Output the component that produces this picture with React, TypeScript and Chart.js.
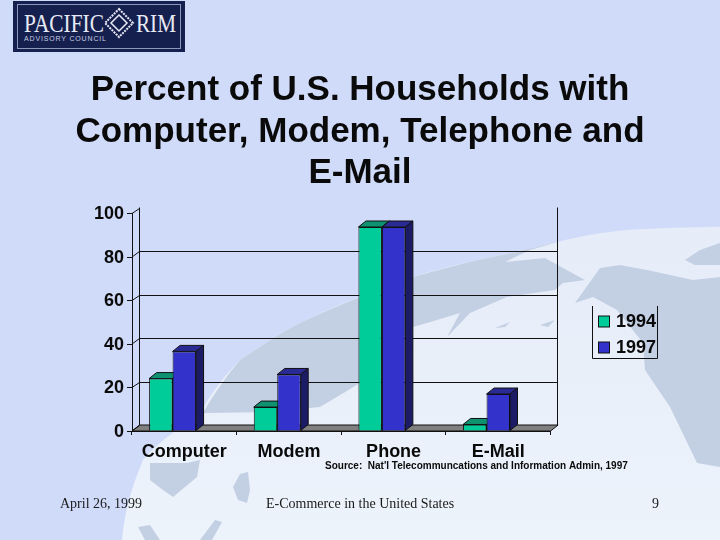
import { useEffect, useRef } from "react"
import { Chart, registerables, type Plugin } from "chart.js"

Chart.register(...registerables)

const categories = ["Computer", "Modem", "Phone", "E-Mail"]
const values1994 = [24.1, 11, 93.8, 3]
const values1997 = [36.6, 26, 93.8, 17]
const yearLabels = ["1994", "1997"]
const titleLines = ["Percent of U.S. Households with", "Computer, Modem, Telephone and", "E-Mail"]
const sourceNote = "Source:  Nat'l Telecommuncations and Information Admin, 1997"
const footerDate = "April 26, 1999"
const footerTitle = "E-Commerce in the United States"
const footerPage = "9"

const DEPTH_X = 7.5
const DEPTH_Y = 6
const SANS = '"Liberation Sans", Arial, sans-serif'
const SERIF = '"Liberation Serif", "Times New Roman", serif'

const frontColors = ["#00cc99", "#3333cc"]
const topColors = ["#0f9270", "#2a2a94"]
const sideColors = ["#0a6a50", "#1c1c66"]

function poly(ctx: CanvasRenderingContext2D, pts: number[][], fill: string) {
  ctx.beginPath()
  pts.forEach(([x, y], i) => (i ? ctx.lineTo(x, y) : ctx.moveTo(x, y)))
  ctx.closePath()
  ctx.fillStyle = fill
  ctx.fill()
  ctx.stroke()
}

// back wall, floor and the depth faces of the bars
const depthPlugin: Plugin<"bar"> = {
  id: "depth",
  beforeDatasetsDraw(chart) {
    const { ctx, chartArea } = chart
    const { left, right, bottom, top } = chartArea
    const y = chart.scales.y
    const backLeft = Math.round(left + DEPTH_X) - 0.5
    const backRight = Math.round(right + DEPTH_X) - 0.5
    ctx.save()
    ctx.lineWidth = 1
    ctx.strokeStyle = "#111"

    poly(
      ctx,
      [
        [left, bottom],
        [left + DEPTH_X, bottom - DEPTH_Y],
        [right + DEPTH_X, bottom - DEPTH_Y],
        [right, bottom],
      ],
      "#808080"
    )

    ctx.beginPath()
    y.ticks.forEach((t) => {
      const py = y.getPixelForValue(t.value)
      const backY = Math.round(py - DEPTH_Y) + 0.5
      ctx.moveTo(left, py)
      ctx.lineTo(backLeft, backY)
      if (t.value > 0 && t.value < 100) {
        ctx.lineTo(backRight, backY)
      }
    })
    ctx.moveTo(backLeft, top - DEPTH_Y)
    ctx.lineTo(backLeft, bottom - DEPTH_Y)
    ctx.moveTo(backRight, top - DEPTH_Y)
    ctx.lineTo(backRight, bottom - DEPTH_Y)
    ctx.stroke()

    frontColors.forEach((_, d) => {
      chart.getDatasetMeta(d).data.forEach((el: any) => {
        const x0 = el.x - el.width / 2
        const x1 = el.x + el.width / 2
        poly(
          ctx,
          [
            [x0, el.y],
            [x0 + DEPTH_X, el.y - DEPTH_Y],
            [x1 + DEPTH_X, el.y - DEPTH_Y],
            [x1, el.y],
          ],
          topColors[d]
        )
        poly(
          ctx,
          [
            [x1, el.y],
            [x1 + DEPTH_X, el.y - DEPTH_Y],
            [x1 + DEPTH_X, el.base - DEPTH_Y],
            [x1, el.base],
          ],
          sideColors[d]
        )
      })
    })
    ctx.restore()
  },
}

// legend box, source line and slide footer
const slideTextPlugin: Plugin<"bar"> = {
  id: "slideText",
  afterDraw(chart) {
    const { ctx } = chart
    ctx.save()
    ctx.strokeStyle = "#111"
    ctx.lineWidth = 1
    ctx.beginPath()
    ctx.moveTo(592.5, 306)
    ctx.lineTo(592.5, 358.5)
    ctx.lineTo(657.5, 358.5)
    ctx.lineTo(657.5, 306)
    ctx.stroke()

    ctx.textBaseline = "middle"
    ctx.textAlign = "left"
    yearLabels.forEach((label, i) => {
      const cy = 321.5 + i * 26
      ctx.fillStyle = frontColors[i]
      ctx.fillRect(598.5, cy - 5.5, 11, 11)
      ctx.strokeRect(598.5, cy - 5.5, 11, 11)
      ctx.fillStyle = "#0a0a0a"
      ctx.font = `bold 18px ${SANS}`
      ctx.fillText(label, 616, cy + 1)
    })

    ctx.font = `bold 10px ${SANS}`
    ctx.fillText(sourceNote, 325, 466)

    ctx.font = `14px ${SERIF}`
    ctx.fillStyle = "#1a1a1a"
    ctx.fillText(footerDate, 60, 504)
    ctx.fillText(footerTitle, 266, 504)
    ctx.fillText(footerPage, 652, 504)
    ctx.restore()
  },
}

function Backdrop() {
  const land = "#c3cfe3"
  return (
    <svg width={720} height={540} style={{ position: "absolute", left: 0, top: 0 }}>
      <defs>
        <linearGradient id="globe" x1="0" y1="0" x2="0" y2="1">
          <stop offset="0" stopColor="#e6ecf8" />
          <stop offset="1" stopColor="#edf3fb" />
        </linearGradient>
      </defs>
      <rect width={720} height={540} fill="#d0dbf9" />
      <path
        d="M122 540 C125 505 135 480 143 460 C160 440 180 428 200 413 C212 392 225 375 240 360 C260 347 280 333 300 323 C320 313 340 304 360 297 C380 289 395 283 413 277 C440 268 475 260 503 255 C525 250 540 246 558 242 C580 236 605 232 627 230 C660 228 690 227 720 227 L720 540 Z"
        fill="url(#globe)"
      />
      <path
        d="M203 413 C215 392 228 374 240 360 C260 347 280 333 300 323 C340 304 380 289 413 277 C445 268 475 260 503 255 C525 250 540 246 558 242 L530 250 L505 262 L545 258 L563 268 L585 280 L563 283 L555 290 L507 297 L470 313 L447 337 L460 313 L427 323 L413 327 L360 383 L320 407 L270 412 Z"
        fill={land}
      />
      <path
        d="M575 303 L600 268 L620 265 L647 270 L693 280 L720 277 L720 467 L697 463 L670 407 L645 370 L643 343 L617 310 L593 297 Z"
        fill={land}
      />
      <path d="M685 260 L700 250 L720 243 L720 265 L695 265 Z" fill={land} />
      <path d="M150 463 L187 463 L200 460 L197 477 L173 497 L163 490 L150 480 Z" fill={land} />
      <path d="M138 527 L150 525 L160 540 L145 540 Z" fill={land} />
      <path d="M233 487 L240 474 L248 472 L250 490 L247 503 L238 500 Z" fill={land} />
      <path d="M200 540 L215 520 L222 522 L212 540 Z" fill={land} />
      <path d="M306 405 L340 385 L360 376 L345 392 L320 402 Z" fill={land} />
      <path d="M495 328 L510 322 L505 327 Z M540 325 L555 320 L548 327 Z" fill={land} />

      <rect x={13} y={1} width={172} height={51} fill="#16204f" />
      <rect x={17.5} y={4.5} width={163} height={44} fill="none" stroke="#8d96bd" />
      <g fill="#e8ebf5" fontFamily={SERIF}>
        <text x={24} y={32} fontSize={25} textLength={80} lengthAdjust="spacingAndGlyphs">
          PACIFIC
        </text>
        <text x={136} y={32} fontSize={25} textLength={40} lengthAdjust="spacingAndGlyphs">
          RIM
        </text>
      </g>
      <text x={24} y={41} fontSize={7} fill="#c6cce2" fontFamily={SANS} textLength={82}>
        ADVISORY COUNCIL
      </text>
      <g fill="none" stroke="#e8ebf5">
        <path d="M119 9 L133 23 L119 37 L105 23 Z" strokeWidth={2} strokeDasharray="2 1" />
        <path d="M119 15 L127 23 L119 31 L111 23 Z" strokeWidth={1.5} />
      </g>
    </svg>
  )
}

export default function App() {
  const canvasRef = useRef<HTMLCanvasElement>(null)

  useEffect(() => {
    document.body.style.margin = "0"
    if (!canvasRef.current) return

    const chart = new Chart(canvasRef.current, {
      type: "bar",
      data: {
        labels: categories,
        datasets: [
          { label: yearLabels[0], data: values1994, backgroundColor: frontColors[0] },
          { label: yearLabels[1], data: values1997, backgroundColor: frontColors[1] },
          // empty slot, keeps the pair left of the category centre
          { label: "", data: [] },
        ],
      },
      options: {
        responsive: false,
        animation: false,
        devicePixelRatio: 1,
        datasets: {
          bar: { barPercentage: 1, categoryPercentage: 0.673, borderWidth: 1, borderColor: "#111" },
        },
        plugins: {
          legend: { display: false },
          tooltip: { enabled: false },
          title: {
            display: true,
            text: titleLines,
            color: "#0a0a0a",
            font: { family: SANS, size: 35, weight: "bold", lineHeight: 1.186 },
            padding: { top: 70, bottom: 19 },
          },
        },
        scales: {
          x: {
            grid: { drawOnChartArea: false, tickLength: 4, color: "#111" },
            border: { color: "#111" },
            ticks: {
              color: "#0a0a0a",
              padding: 6,
              font: { family: SANS, size: 18, weight: "bold" },
              maxRotation: 0,
            },
            afterFit: (s) => {
              s.height = 109
            },
          },
          y: {
            min: 0,
            max: 100,
            grid: { drawOnChartArea: false, tickLength: 5, color: "#111" },
            border: { color: "#111" },
            ticks: {
              stepSize: 20,
              color: "#0a0a0a",
              padding: 3,
              labelOffset: 1,
              font: { family: SANS, size: 18, weight: "bold" },
            },
            afterFit: (s) => {
              s.width = 132
            },
          },
          // empty right-hand gutter so the title stays centred on the slide
          gutter: {
            type: "linear",
            position: "right",
            grid: { display: false },
            border: { display: false },
            ticks: { display: false },
            afterFit: (s) => {
              s.width = 169.4
            },
          },
        },
      },
      plugins: [depthPlugin, slideTextPlugin],
    })

    return () => chart.destroy()
  }, [])

  return (
    <div style={{ position: "relative", width: 720, height: 540, overflow: "hidden" }}>
      <Backdrop />
      <canvas ref={canvasRef} width={720} height={540} style={{ position: "absolute", left: 0, top: 0 }} />
    </div>
  )
}
